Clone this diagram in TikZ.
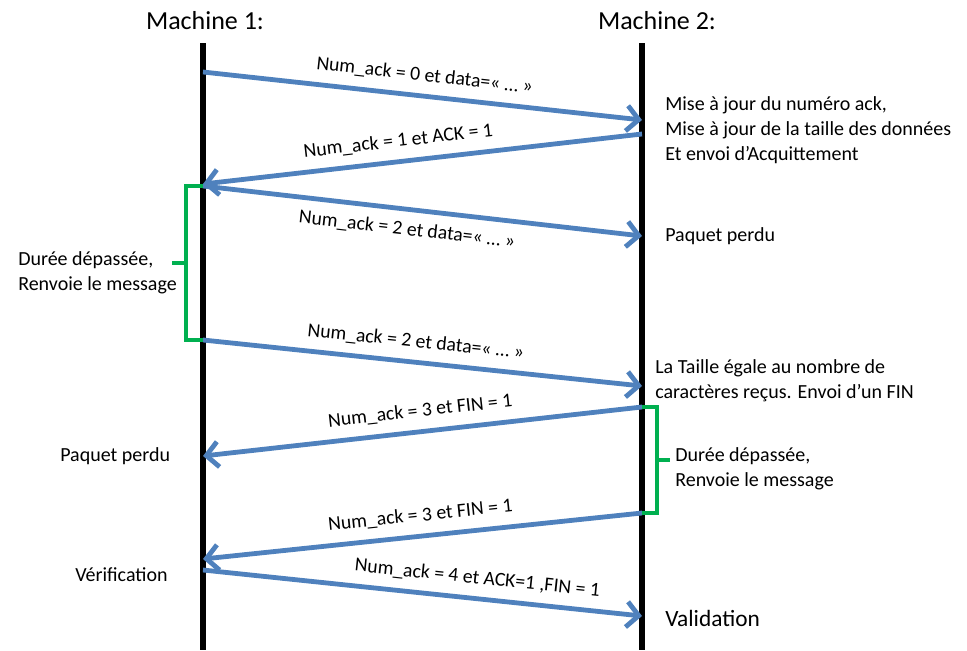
\documentclass[tikz,border=0pt]{standalone}
\usepackage{fontspec}
\setmainfont{Carlito}
\usetikzlibrary{arrows.meta,positioning}

\definecolor{msgblue}{RGB}{79,129,189}
\definecolor{delaygreen}{RGB}{0,176,80}

\tikzset{
    lifeline/.style = {line width=4.5pt, black},
    msg/.style = {line width=3.6pt, msgblue, -{Straight Barb[length=9pt, width=19pt]}},
    msglabel/.style = {font=\fontsize{14.8}{17}\selectfont, sloped, black},
    delay/.style = {line width=3pt, delaygreen},
    note/.style = {font=\fontsize{15}{18.8}\selectfont, align=left, anchor=west, inner sep=0pt},
    title/.style = {font=\fontsize{19.5}{24}\selectfont}
}

\begin{document}
\begin{tikzpicture}[x=0.75pt, y=-0.75pt]
    \useasboundingbox (0,0) rectangle (967,650);

    % machines
    \node[title] (m1) at (205,21) {Machine 1:};
    \node[title] (m2) at (657,21) {Machine 2:};
    \coordinate (m1top) at (203,43);  \coordinate (m1bot) at (203,650);
    \coordinate (m2top) at (642,43);  \coordinate (m2bot) at (642,650);
    \draw[lifeline] (m1top) -- (m1bot);
    \draw[lifeline] (m2top) -- (m2bot);

    % points on the lifelines
    \coordinate (a1) at (203,72);   \coordinate (b1) at (642,120);
    \coordinate (b2) at (642,134);  \coordinate (a2) at (203,184);
    \coordinate (a3) at (203,186);  \coordinate (b3) at (642,236);
    \coordinate (a4) at (203,340);  \coordinate (b4) at (642,386);
    \coordinate (b5) at (642,407);  \coordinate (a5) at (203,456);
    \coordinate (b6) at (642,513);  \coordinate (a6) at (203,559);
    \coordinate (a7) at (203,570);  \coordinate (b7) at (642,616);

    % messages
    \draw[msg] (a1) -- node[msglabel, above=4pt, pos=0.5] {Num\_ack = 0 et data=« … »} (b1);
    \draw[msg] (b2) -- node[msglabel, above=4pt, pos=0.55] {Num\_ack = 1 et ACK = 1} (a2);
    \draw[msg] (a3) -- node[msglabel, below=4pt, pos=0.47] {Num\_ack = 2 et data=« … »} (b3);
    \draw[msg] (a4) -- node[msglabel, above=4pt, pos=0.48] {Num\_ack = 2 et data=« … »} (b4);
    \draw[msg] (b5) -- node[msglabel, above=4pt, pos=0.5] {Num\_ack = 3 et FIN = 1} (a5);
    \draw[msg] (b6) -- node[msglabel, above=4pt, pos=0.5] {Num\_ack = 3 et FIN = 1} (a6);
    \draw[msg] (a7) -- node[msglabel, above=4pt, pos=0.62] {Num\_ack = 4 et ACK=1 ,FIN = 1} (b7);

    % timeouts
    \coordinate (g1) at (186,263);
    \coordinate (g2) at (657,460);
    \draw[delay] (a3) -- ++(-17,0) |- (a4);
    \draw[delay] (g1) -- ++(-14,0) coordinate (g1end);
    \draw[delay] (b5) -- ++(15,0) |- (b6);
    \draw[delay] (g2) -- ++(13,0) coordinate (g2end);

    % notes
    \node[note] (maj) at (665,130) {Mise à jour du numéro ack,\\Mise à jour de la taille des données\\Et envoi d’Acquittement};
    \node[note] (perdu2) at (665,236) {Paquet perdu};
    \node[note] (renvoi1) at (18,273) {Durée dépassée,\\Renvoie le message};
    \node[note] (taille) at (655,381) {La Taille égale au nombre de\\caractères reçus. Envoi d’un FIN};
    \node[note] (perdu1) at (60,456) {Paquet perdu};
    \node[note] (renvoi2) at (675,469) {Durée dépassée,\\Renvoie le message};
    \node[note] (verif) at (75,575) {Vérification};
    \node[note, font=\fontsize{17.5}{20}\selectfont] (valid) at (665,618) {Validation};
\end{tikzpicture}
\end{document}
